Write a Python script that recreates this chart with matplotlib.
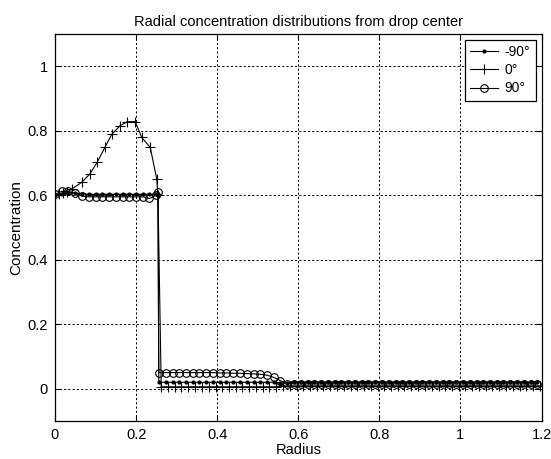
import matplotlib
matplotlib.use("Agg")
import matplotlib.pyplot as plt

plt.rcParams['font.family'] = ['Liberation Sans', 'DejaVu Sans']

# radius grid inside the drop and outside (after the step)
R_IN = [0, 0.017, 0.033, 0.05, 0.067, 0.083, 0.1, 0.117, 0.133, 0.15, 0.167,
        0.183, 0.2, 0.217, 0.233, 0.25, 0.254]
R_OUT = [0.256, 0.273, 0.29, 0.306, 0.323, 0.34, 0.356, 0.373, 0.39, 0.406,
         0.423, 0.44, 0.456, 0.473, 0.49, 0.506, 0.523, 0.54, 0.556, 0.573,
         0.59, 0.606, 0.623, 0.64, 0.656, 0.673, 0.69, 0.706, 0.723, 0.74,
         0.756, 0.773, 0.79, 0.806, 0.823, 0.84, 0.856, 0.873, 0.89, 0.906,
         0.923, 0.94, 0.956, 0.973, 0.99, 1.006, 1.023, 1.04, 1.056, 1.073,
         1.09, 1.106, 1.123, 1.14, 1.156, 1.173, 1.19]

# -90 deg
C_M90_IN = [0.6, 0.605, 0.608, 0.607, 0.604, 0.603, 0.603, 0.603, 0.603, 0.603,
            0.603, 0.603, 0.603, 0.603, 0.603, 0.603, 0.6]
C_M90_OUT = [0.02] * 18 + [0.018, 0.018] + [0.02] * 37

# 0 deg (peak inside the drop)
R_0_IN = [0, 0.01, 0.02, 0.03, 0.041, 0.066, 0.086, 0.104, 0.123, 0.14, 0.16,
          0.178, 0.198, 0.214, 0.235, 0.251, 0.254]
C_0_IN = [0.6, 0.604, 0.607, 0.61, 0.619, 0.64, 0.666, 0.702, 0.748, 0.789,
          0.815, 0.828, 0.828, 0.779, 0.748, 0.65, 0.6]
R_0_OUT = [0.262, 0.279, 0.296, 0.312, 0.329, 0.346, 0.362, 0.379, 0.396, 0.412,
           0.429, 0.446, 0.462, 0.479, 0.496, 0.512, 0.529, 0.546, 0.562, 0.579,
           0.596, 0.612, 0.629, 0.646, 0.662, 0.679, 0.696, 0.712, 0.729, 0.746,
           0.762, 0.779, 0.796, 0.812, 0.829, 0.846, 0.862, 0.879, 0.896, 0.912,
           0.929, 0.946, 0.962, 0.979, 0.996, 1.012, 1.029, 1.046, 1.062, 1.079,
           1.096, 1.112, 1.129, 1.146, 1.162, 1.179, 1.196]
C_0_OUT = [0.006] * 18 + [0.009] * 39

# 90 deg
C_90_IN = [0.603, 0.612, 0.612, 0.606, 0.597, 0.595, 0.595, 0.595, 0.595, 0.595,
           0.595, 0.595, 0.595, 0.595, 0.59, 0.6, 0.61]
C_90_OUT = [0.05, 0.05, 0.05, 0.05, 0.05, 0.05, 0.05, 0.05, 0.05, 0.049,
            0.049, 0.048, 0.048, 0.047, 0.046, 0.045, 0.042, 0.035, 0.025, 0.016,
            0.015] + [0.015] * 36

X_TICKS = [0, 0.2, 0.4, 0.6, 0.8, 1, 1.2]
X_TICKLABELS = ['0', '0.2', '0.4', '0.6', '0.8', '1', '1.2']
Y_TICKS = [0, 0.2, 0.4, 0.6, 0.8, 1]
Y_TICKLABELS = ['0', '0.2', '0.4', '0.6', '0.8', '1']
LABELS = ['-90°', '0°', '90°']

fig = plt.figure(figsize=(5.51, 4.59), dpi=100)
ax = fig.add_axes([0.0998, 0.0828, 0.8830, 0.8432])

lw = 0.8
ax.plot(R_IN + R_OUT, C_M90_IN + C_M90_OUT, color='black', lw=lw,
        marker='.', markersize=4, label=LABELS[0])
ax.plot(R_0_IN + R_0_OUT, C_0_IN + C_0_OUT, color='black', lw=lw,
        marker='+', markersize=7, markeredgewidth=0.8, label=LABELS[1])
ax.plot(R_IN + R_OUT, C_90_IN + C_90_OUT, color='black', lw=lw,
        marker='o', markersize=5.5, markerfacecolor='none',
        markeredgecolor='black', markeredgewidth=0.8, label=LABELS[2])

ax.set_xlim(0, 1.2)
ax.set_ylim(-0.1, 1.1)
ax.set_xticks(X_TICKS)
ax.set_xticklabels(X_TICKLABELS)
ax.set_yticks(Y_TICKS)
ax.set_yticklabels(Y_TICKLABELS)
ax.tick_params(direction='in', top=True, right=True, length=4, width=0.8,
               labelsize=10.5, pad=5)
ax.grid(True, color='black', linestyle=(0, (2.2, 2.2)), linewidth=0.7)
for s in ax.spines.values():
    s.set_linewidth(0.9)

ax.set_title('Radial concentration distributions from drop center', fontsize=10.5, pad=6)
ax.set_xlabel('Radius', fontsize=10.5, labelpad=1)
ax.set_ylabel('Concentration', fontsize=11, labelpad=3)

leg = ax.legend(loc='upper right', fontsize=10, frameon=True, fancybox=False,
                edgecolor='black', framealpha=1, handlelength=2.0,
                handletextpad=0.5, labelspacing=0.3, borderaxespad=0.4,
                borderpad=0.4, markerscale=1.0)
leg.get_frame().set_linewidth(0.9)

fig.savefig('out.png', dpi=100)
